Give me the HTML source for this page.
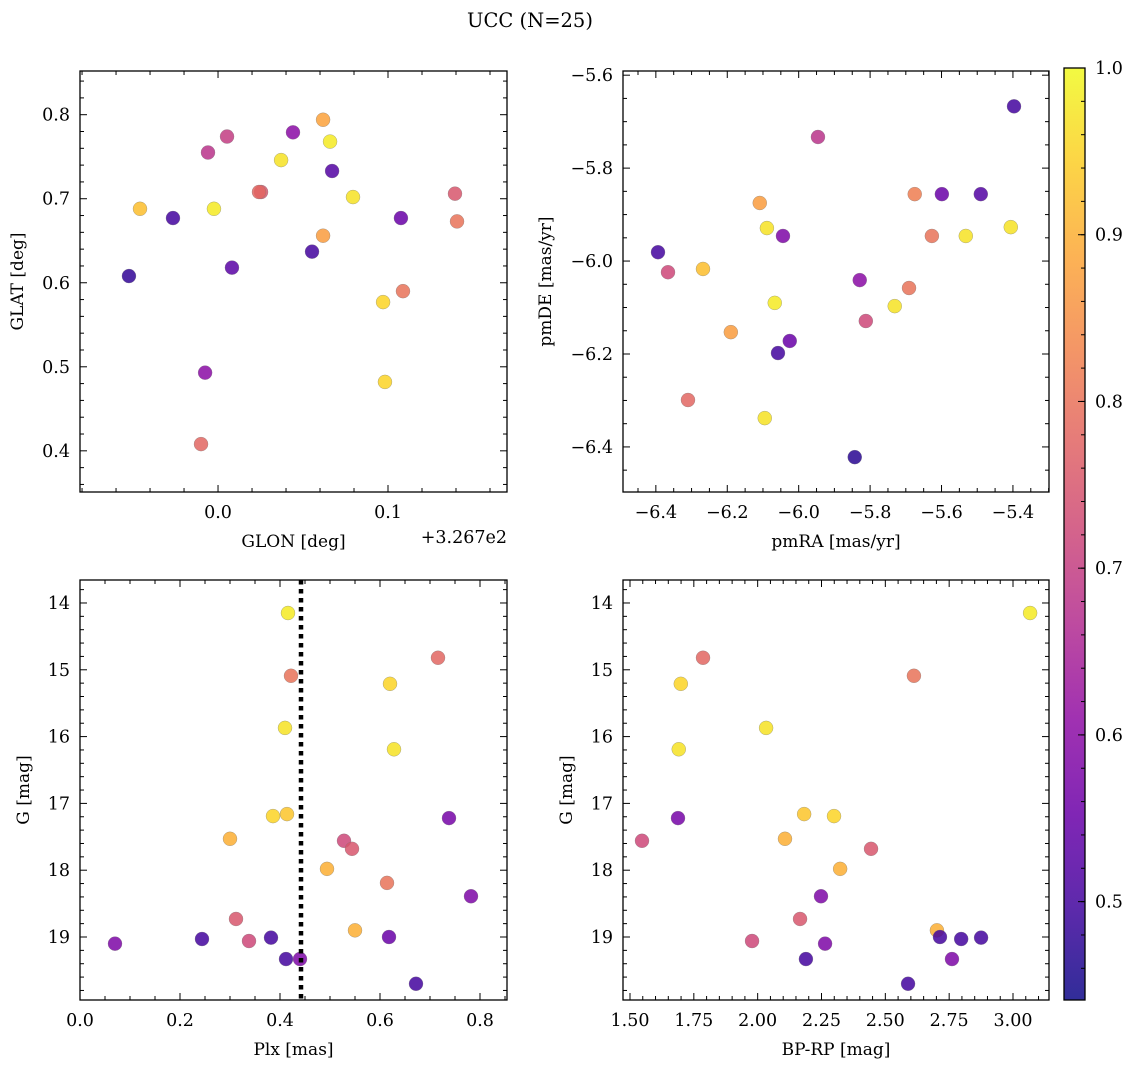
<!DOCTYPE html>
<html><head><meta charset="utf-8"><style>
body{margin:0;background:#fff;}
svg text{font-family:"DejaVu Serif","Liberation Serif",serif;fill:#000;}
</style></head><body>
<svg id="fig" width="1136" height="1068" xmlns="http://www.w3.org/2000/svg">
<defs><linearGradient id="cg" x1="0" y1="1" x2="0" y2="0"></linearGradient></defs>
<text x="530" y="27" font-size="19.5" text-anchor="middle">UCC (N=25)</text>
</svg>
<script>
const glon=[326.6476,326.6735,326.6900,326.6924,326.6941,326.6976,326.7053,326.7082,326.6541,326.7253,326.7371,326.7441,326.7553,326.7618,326.7618,326.7659,326.7671,326.7794,326.7971,326.7982,326.8076,326.8088,326.8394,326.8406,326.7241];
const glat=[0.608,0.677,0.408,0.493,0.755,0.688,0.774,0.618,0.688,0.708,0.746,0.779,0.637,0.656,0.794,0.768,0.733,0.702,0.577,0.482,0.677,0.590,0.706,0.673,0.708];
const prob1=[0.48,0.5,0.78,0.6,0.68,0.98,0.7,0.53,0.92,0.75,0.97,0.6,0.5,0.87,0.88,0.98,0.52,0.97,0.95,0.95,0.55,0.8,0.75,0.8,0.78];
const pmra=[-6.394,-6.366,-6.268,-6.190,-6.310,-6.109,-6.089,-6.095,-6.067,-6.058,-6.044,-6.025,-5.946,-5.843,-5.829,-5.812,-5.731,-5.691,-5.675,-5.627,-5.599,-5.532,-5.490,-5.406,-5.397];
const pmde=[-5.981,-6.024,-6.017,-6.153,-6.299,-5.875,-5.929,-6.338,-6.090,-6.198,-5.946,-6.172,-5.733,-6.422,-6.041,-6.129,-6.097,-6.058,-5.856,-5.946,-5.856,-5.946,-5.856,-5.927,-5.667];
const prob2=[0.5,0.72,0.92,0.87,0.78,0.87,0.97,0.97,0.98,0.5,0.58,0.55,0.68,0.47,0.6,0.72,0.97,0.8,0.82,0.8,0.55,0.97,0.52,0.97,0.5];
const plx=[0.070,0.244,0.382,0.412,0.440,0.338,0.312,0.300,0.416,0.422,0.410,0.386,0.414,0.528,0.544,0.494,0.550,0.614,0.618,0.620,0.628,0.672,0.716,0.738,0.782];
const gmag3=[19.10,19.03,19.01,19.33,19.33,19.06,18.73,17.53,14.15,15.09,15.87,17.19,17.16,17.56,17.68,17.98,18.90,18.19,19.00,15.21,16.19,19.70,14.82,17.22,18.39];
const prob3=[0.58,0.5,0.5,0.5,0.58,0.72,0.75,0.9,0.98,0.8,0.97,0.95,0.93,0.72,0.75,0.9,0.9,0.8,0.55,0.95,0.97,0.5,0.78,0.57,0.58];
const bprp=[1.547,1.688,1.691,1.699,1.786,1.978,2.033,2.107,2.166,2.182,2.248,2.189,2.264,2.299,2.323,2.444,2.612,2.589,2.702,2.714,2.761,2.797,2.875,3.067];
const gmag4=[17.56,17.22,16.19,15.21,14.82,19.06,15.87,17.53,18.73,17.16,18.39,19.33,19.10,17.19,17.98,17.68,15.09,19.70,18.90,19.00,19.33,19.03,19.01,14.15];
const prob4=[0.72,0.57,0.97,0.95,0.78,0.72,0.97,0.9,0.75,0.93,0.58,0.5,0.58,0.95,0.9,0.75,0.8,0.5,0.9,0.5,0.58,0.5,0.5,0.98];
const plxLine=0.442;
const cbTicks=[0.5,0.6,0.7,0.8,0.9,1.0];

const NS="http://www.w3.org/2000/svg";
const svg=document.getElementById('fig');
const VMIN=0.441,VMAX=1.0;
const FS=17.5;
const stops=[[13,8,135],[65,4,157],[106,0,168],[143,13,164],[177,42,144],[204,71,120],[225,100,98],[242,132,75],[252,166,54],[252,206,37],[240,249,33]];
function cmap(v){let t=(v-VMIN)/(VMAX-VMIN);t=Math.max(0,Math.min(1,t))*10;const i=Math.min(9,Math.floor(t)),f=t-i;const a=stops[i],b=stops[i+1];return 'rgb('+a.map((c,k)=>Math.round(c+(b[k]-c)*f)).join(',')+')';}
function el(tag,attrs,parent){const e=document.createElementNS(NS,tag);for(const k in attrs)e.setAttribute(k,attrs[k]);(parent||svg).appendChild(e);return e;}
function lin(d0,d1,r0,r1){return v=>r0+(v-d0)*(r1-r0)/(d1-d0);}
function fmt(v,dec){return (v<0?'\u2212':'')+Math.abs(v).toFixed(dec);}

function panel(o){
  const g=el('g',{});
  
  
  const sx=lin(o.xd[0],o.xd[1],o.x0,o.x1), sy=lin(o.yd[0],o.yd[1],o.y1,o.y0);
  for(let i=0;i<o.xs.length;i++){
    const c=el('circle',{cx:sx(o.xs[i]),cy:sy(o.ys[i]),r:7,fill:cmap(o.c[i]),'fill-opacity':0.85,stroke:'#777','stroke-width':0.3},g);
    
    
  }
  if(o.vline!==undefined){
    const l=el('line',{x1:sx(o.vline),x2:sx(o.vline),y1:o.y0,y2:o.y1,stroke:'#000','stroke-width':4.5,'stroke-dasharray':'4.5,4.5'},g);
    
    
  }
  const fr=el('rect',{x:o.x0,y:o.y0,width:o.x1-o.x0,height:o.y1-o.y0,fill:'none',stroke:'#000','stroke-width':1.3},g);
  
  
  const eps=1e-9;
  const xlo=Math.min(...o.xd),xhi=Math.max(...o.xd);
  for(let v=Math.ceil(xlo/o.xmin-eps)*o.xmin;v<=xhi+eps;v+=o.xmin){
    const isMaj=Math.abs(v/o.xmaj-Math.round(v/o.xmaj))<1e-6;const L=isMaj?7:4;const X=sx(v);
    el('line',{x1:X,x2:X,y1:o.y1,y2:o.y1-L,stroke:'#000','stroke-width':1},g);
    el('line',{x1:X,x2:X,y1:o.y0,y2:o.y0+L,stroke:'#000','stroke-width':1},g);
    if(isMaj){const t=el('text',{x:X,y:o.y1+26,'font-size':FS,'text-anchor':'middle'},g);t.textContent=fmt(Math.round(v/o.xmaj)*o.xmaj,o.xdec);
      }
  }
  const ylo=Math.min(...o.yd),yhi=Math.max(...o.yd);
  for(let v=Math.ceil(ylo/o.ymin-eps)*o.ymin;v<=yhi+eps;v+=o.ymin){
    const isMaj=Math.abs(v/o.ymaj-Math.round(v/o.ymaj))<1e-6;const L=isMaj?7:4;const Y=sy(v);
    el('line',{x1:o.x0,x2:o.x0+L,y1:Y,y2:Y,stroke:'#000','stroke-width':1},g);
    el('line',{x1:o.x1,x2:o.x1-L,y1:Y,y2:Y,stroke:'#000','stroke-width':1},g);
    if(isMaj){const t=el('text',{x:o.x0-10,y:Y+6,'font-size':FS,'text-anchor':'end'},g);t.textContent=fmt(Math.round(v/o.ymaj)*o.ymaj,o.ydec);
      }
  }
  const xl=el('text',{x:(o.x0+o.x1)/2,y:o.y1+55,'font-size':17,'text-anchor':'middle'},g);xl.textContent=o.xlabel;
  
  const yx=o.ylx,yy=(o.y0+o.y1)/2;
  const yl=el('text',{x:yx,y:yy,'font-size':17,'text-anchor':'middle',transform:'rotate(-90 '+yx+' '+yy+')'},g);yl.textContent=o.ylabel;
  
  if(o.offset){const t=el('text',{x:o.x1,y:o.y1+51,'font-size':FS,'text-anchor':'end'},g);t.textContent=o.offset;
    }
}
const OFF=326.7;
panel({name:'glon-glat-panel',x0:80,x1:507,y0:71,y1:492,xd:[-0.0812,0.1700],yd:[0.351,0.852],xs:glon.map(v=>v-OFF),ys:glat,c:prob1,xmaj:0.1,xmin:0.02,xdec:1,ymaj:0.1,ymin:0.02,ydec:1,xlabel:'GLON [deg]',ylabel:'GLAT [deg]',ylx:23,offset:'+3.267e2'});
panel({name:'pm-panel',x0:623,x1:1049,y0:71,y1:492,xd:[-6.492,-5.299],yd:[-6.497,-5.591],xs:pmra,ys:pmde,c:prob2,xmaj:0.2,xmin:0.05,xdec:1,ymaj:0.2,ymin:0.05,ydec:1,xlabel:'pmRA [mas/yr]',ylabel:'pmDE [mas/yr]',ylx:551});
panel({name:'plx-g-panel',x0:80,x1:507,y0:580,y1:1000,xd:[0,0.854],yd:[19.943,13.656],xs:plx,ys:gmag3,c:prob3,xmaj:0.2,xmin:0.05,xdec:1,ymaj:1,ymin:0.2,ydec:0,xlabel:'Plx [mas]',ylabel:'G [mag]',ylx:29,vline:plxLine});
panel({name:'cmd-panel',x0:623,x1:1049,y0:580,y1:1000,xd:[1.4726,3.141],yd:[19.943,13.656],xs:bprp,ys:gmag4,c:prob4,xmaj:0.25,xmin:0.05,xdec:2,ymaj:1,ymin:0.2,ydec:0,xlabel:'BP-RP [mag]',ylabel:'G [mag]',ylx:572});

const grad=document.getElementById('cg');
for(let k=0;k<=20;k++){const v=VMIN+(VMAX-VMIN)*k/20;el('stop',{offset:(k/20),'stop-color':cmap(v),'stop-opacity':0.85},grad);}
const cb=el('g',{});


el('rect',{x:1064,y:68,width:21,height:932,fill:'url(#cg)',stroke:'#000','stroke-width':1.3},cb);
const cy=lin(VMIN,VMAX,1000,68);
for(let v=0.46;v<=1.0001;v+=0.02){const Y=cy(v);el('line',{x1:1085,x2:1081,y1:Y,y2:Y,stroke:'#000','stroke-width':1},cb);}
cbTicks.forEach(v=>{const Y=cy(v);el('line',{x1:1085,x2:1078,y1:Y,y2:Y,stroke:'#000','stroke-width':1},cb);
  const t=el('text',{x:1095,y:Y+6,'font-size':FS},cb);t.textContent=v.toFixed(1);
  });
</script>
</body></html>
